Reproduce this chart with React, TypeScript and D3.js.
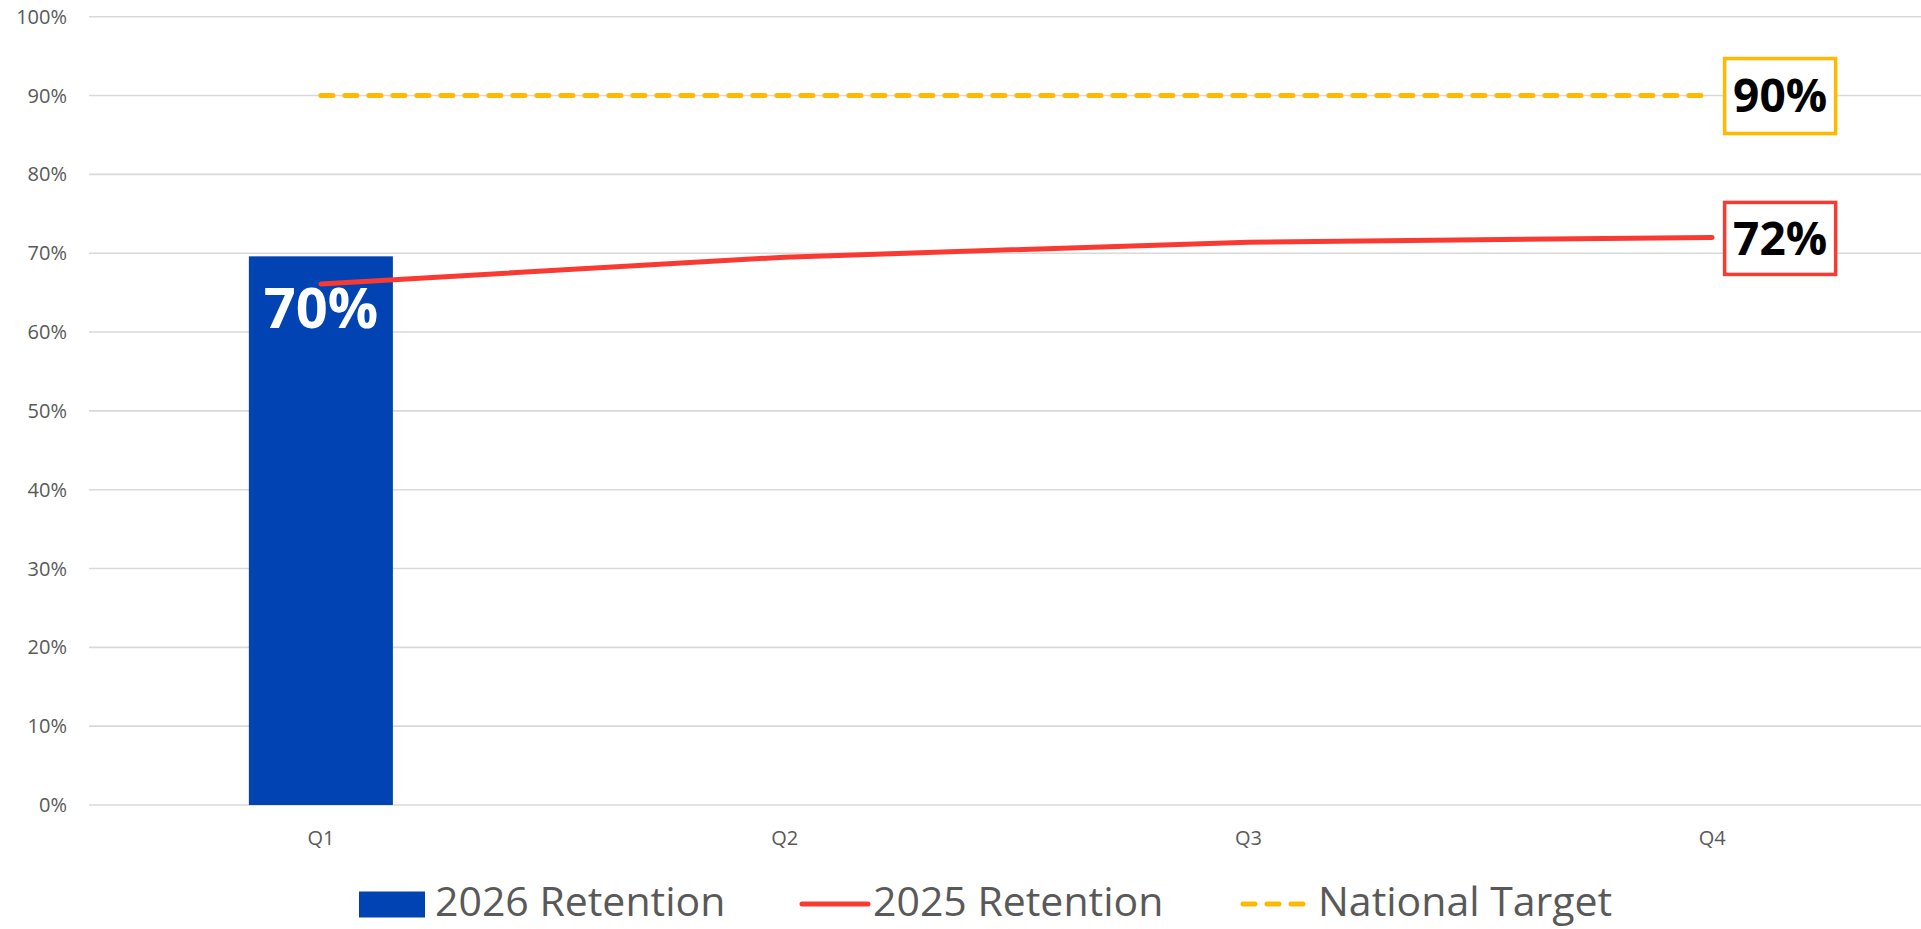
import React from "react";
import * as d3 from "d3";

const categories = ["Q1", "Q2", "Q3", "Q4"];
const retention2026 = [0.696];
const retention2025 = [0.661, 0.695, 0.714, 0.72];
const nationalTarget = [0.9, 0.9, 0.9, 0.9];
const yTicks = [0, 0.1, 0.2, 0.3, 0.4, 0.5, 0.6, 0.7, 0.8, 0.9, 1.0];
const legendItems = ["2026 Retention", "2025 Retention", "National Target"];

const W = 1921;
const H = 929;
const FONT = "'Open Sans', 'Noto Sans', sans-serif";
const BLUE = "#0143B2";
const RED = "#F93A32";
const GOLD = "#FFB900";
const GREY = "#595959";

export default function App() {
  const x = d3.scaleBand<string>().domain(categories).range([89, 1944]).paddingInner(0).paddingOuter(0);
  const y = d3.scaleLinear().domain([0, 1]).range([805, 16.7]);
  const cx = (c: string) => (x(c) as number) + x.bandwidth() / 2;
  const barW = x.bandwidth() / 3.22;
  const pct = d3.format(".0%");

  const line = d3
    .line<number>()
    .x((_, i) => cx(categories[i]))
    .y((d) => y(d));

  const lastI = categories.length - 1;
  const lastX = cx(categories[lastI]);

  return (
    <svg width={W} height={H} style={{ position: "absolute", left: 0, top: 0, background: "#fff" }} fontFamily={FONT}>
      {/* gridlines */}
      {yTicks.map((t) => (
        <line key={"g" + t} x1={89} x2={W} y1={y(t)} y2={y(t)} stroke="#d9d9d9" strokeWidth={1.6} />
      ))}
      {/* y tick labels */}
      {yTicks.map((t) => (
        <text key={"t" + t} x={67} y={y(t)} dy="0.35em" textAnchor="end" fontSize={20} fill={GREY}>
          {pct(t)}
        </text>
      ))}
      {/* x labels */}
      {categories.map((c) => (
        <text key={c} x={cx(c)} y={838} dy="0.35em" textAnchor="middle" fontSize={20} fill={GREY}>
          {c}
        </text>
      ))}
      {/* bars */}
      {retention2026.map((v, i) => (
        <rect key={"b" + i} x={cx(categories[i]) - barW / 2} y={y(v)} width={barW} height={y(0) - y(v)} fill={BLUE} />
      ))}
      {/* national target */}
      <path d={line(nationalTarget) || ""} fill="none" stroke={GOLD} strokeWidth={5} strokeDasharray="12 12" strokeLinecap="round" />
      {/* 2025 retention */}
      <path d={line(retention2025) || ""} fill="none" stroke={RED} strokeWidth={5} strokeLinecap="round" strokeLinejoin="round" />
      {/* bar label */}
      {retention2026.map((v, i) => (
        <text key={"bl" + i} x={cx(categories[i])} y={y(v) + 72} textAnchor="middle" fontSize={56} fontWeight={700} fill="#fff">
          {pct(v)}
        </text>
      ))}
      {/* end labels */}
      <g>
        <rect x={lastX + 12.5} y={y(nationalTarget[lastI]) - 37} width={111} height={75} fill="#fff" stroke={GOLD} strokeWidth={3.5} />
        <text x={lastX + 68} y={y(nationalTarget[lastI])} dy="0.36em" textAnchor="middle" fontSize={46} fontWeight={700} fill="#000">
          {pct(nationalTarget[lastI])}
        </text>
        <rect x={lastX + 12.5} y={y(retention2025[lastI]) - 35} width={111} height={72} fill="#fff" stroke={RED} strokeWidth={3.5} />
        <text x={lastX + 68} y={y(retention2025[lastI]) + 1} dy="0.36em" textAnchor="middle" fontSize={46} fontWeight={700} fill="#000">
          {pct(retention2025[lastI])}
        </text>
      </g>
      {/* legend */}
      <g>
        <rect x={359} y={891.5} width={66} height={26} fill={BLUE} />
        <text x={435} y={916} fontSize={41} fill={GREY}>{legendItems[0]}</text>
        <line x1={802} x2={868} y1={904} y2={904} stroke={RED} strokeWidth={5} strokeLinecap="round" />
        <text x={873} y={916} fontSize={41} fill={GREY}>{legendItems[1]}</text>
        <line x1={1243} x2={1306} y1={904} y2={904} stroke={GOLD} strokeWidth={5} strokeDasharray="12 12" strokeLinecap="round" />
        <text x={1318} y={916} fontSize={41} fill={GREY}>{legendItems[2]}</text>
      </g>
    </svg>
  );
}
